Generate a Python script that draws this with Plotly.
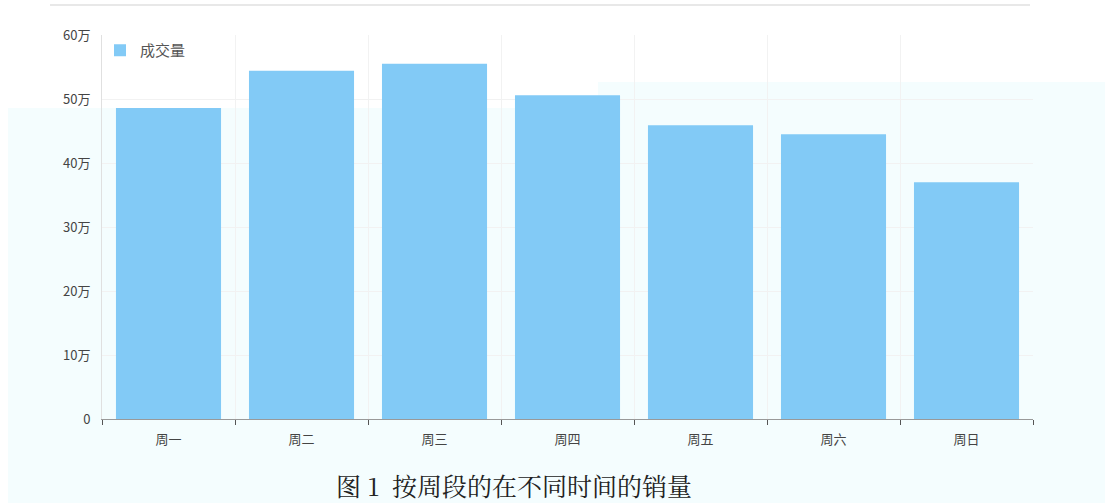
import plotly.graph_objects as go

categories = ["周一", "周二", "周三", "周四", "周五", "周六", "周日"]
volumes = [486000, 544000, 555000, 506000, 459000, 445000, 370000]
y_tick_vals = [0, 100000, 200000, 300000, 400000, 500000, 600000]
y_tick_text = ["0", "10万", "20万", "30万", "40万", "50万", "60万"]
series_name = "成交量"
caption = "图 1  按周段的在不同时间的销量"

W, H = 1105, 503
L, R, T, B = 102, 1033, 35, 419

def px(x):
    return (x - L) / (R - L)

def py(y):
    return (B - y) / (B - T)

fig = go.Figure()
fig.add_trace(go.Bar(
    x=categories, y=volumes, name=series_name,
    marker=dict(color="#82caf6", line=dict(width=0)),
))

cyan = "#f4fdfe"
shapes = [
    dict(type="rect", xref="paper", yref="paper", x0=px(8), x1=px(1105), y0=py(503), y1=py(108),
         fillcolor=cyan, line=dict(width=0), layer="below"),
    dict(type="rect", xref="paper", yref="paper", x0=px(598), x1=px(1105), y0=py(108), y1=py(82),
         fillcolor=cyan, line=dict(width=0), layer="below"),
    dict(type="line", xref="paper", yref="paper", x0=px(50), x1=px(1030), y0=py(5), y1=py(5),
         line=dict(color="#e8e8e8", width=2)),
]

fig.update_layout(
    width=W, height=H,
    margin=dict(l=L, r=W - R, t=T, b=H - B),
    paper_bgcolor="white",
    plot_bgcolor="rgba(0,0,0,0)",
    font=dict(family="Noto Sans CJK SC, sans-serif", size=13, color="#555"),
    bargap=0.21,
    showlegend=True,
    legend=dict(x=px(100), y=py(34), xanchor="left", yanchor="top",
                bgcolor="rgba(0,0,0,0)", font=dict(size=15, color="#555")),
    shapes=shapes,
    annotations=[dict(text=caption, xref="paper", yref="paper", x=px(514), y=py(485),
                      xanchor="center", yanchor="middle", showarrow=False,
                      font=dict(family="Noto Serif CJK SC, Noto Sans CJK SC, serif", size=25, color="#222"))],
)
fig.update_xaxes(
    tickson="boundaries", ticks="outside", ticklen=5, tickcolor="#555",
    showline=True, linecolor="#999", linewidth=1,
    showgrid=True, gridcolor="#f2f2f2", tickfont=dict(size=13, color="#444"),
    ticklabelstandoff=8,
)
fig.update_yaxes(
    range=[0, 600000], tickvals=y_tick_vals, ticktext=y_tick_text,
    showline=True, linecolor="#e0e0e0", linewidth=1,
    showgrid=True, gridcolor="#f2f2f2", zeroline=False,
    tickfont=dict(size=13, color="#444"), ticks="", ticklabelstandoff=8,
)

fig.write_html("out.html", config={"displayModeBar": False},
               post_script="document.body.style.margin='0';")
